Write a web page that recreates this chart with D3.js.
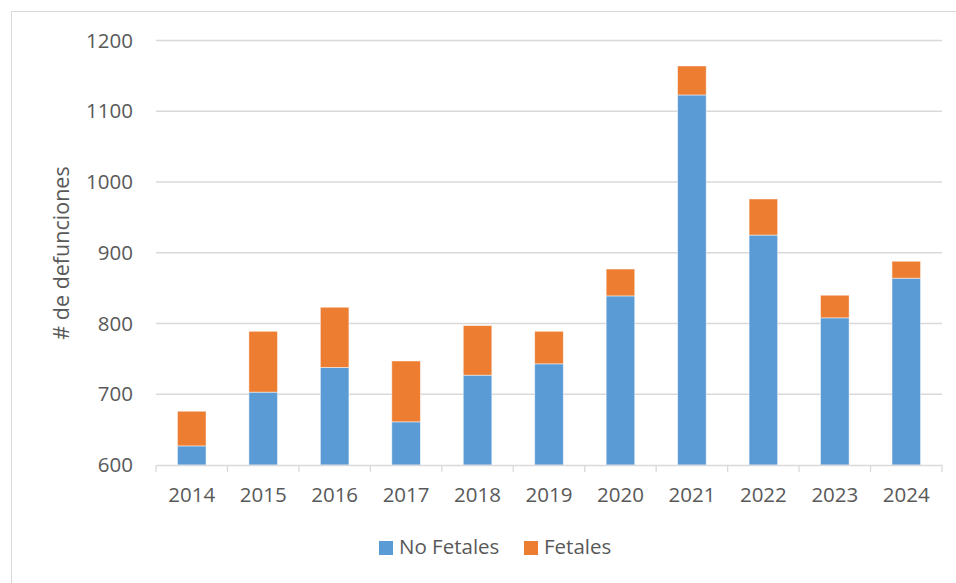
<!DOCTYPE html>
<html><head><meta charset="utf-8">
<script src="https://cdn.jsdelivr.net/npm/d3@7"></script>
<style>body{margin:0;background:#fff}svg{display:block}</style>
</head><body>
<svg id="c" width="956" height="583"></svg>
<script>
const years = ["2014","2015","2016","2017","2018","2019","2020","2021","2022","2023","2024"];
const noFetales = [627,703,738,661,727,743,839,1123,925,808,864];
const totals = [676,789,823,747,797,789,877,1164,976,840,888];
const fetales = totals.map((t,i)=>t-noFetales[i]);
const yTicks = [600,700,800,900,1000,1100,1200];
const seriesNames = ["No Fetales","Fetales"];
const colors = ["#5B9BD5","#ED7D31"];

const svg = d3.select("#c");
const font = "'Open Sans', sans-serif";
const fs = 20.5;
const textCol = "#595959";
const grid = "#d9d9d9";

// outer border
svg.append("rect").attr("x",11.5).attr("y",11.5).attr("width",1000).attr("height",1000)
  .attr("fill","none").attr("stroke","#d9d9d9").attr("stroke-width",1);

const pLeft=156, pRight=942, pTop=40.5, pBottom=465;
const x = d3.scaleBand().domain(years).range([pLeft,pRight]).paddingInner(0.6).paddingOuter(0.3);
const xb = d3.scaleBand().domain(years).range([pLeft,pRight]);
const y = d3.scaleLinear().domain([600,1200]).range([pBottom,pTop]);

// gridlines
svg.append("g").selectAll("line").data(yTicks.slice(1)).join("line")
  .attr("x1",pLeft).attr("x2",pRight).attr("y1",d=>y(d)).attr("y2",d=>y(d))
  .attr("stroke",grid).attr("stroke-width",1.3);

// y axis labels
const ya = svg.append("g").attr("transform",`translate(${pLeft},0)`)
  .call(d3.axisLeft(y).tickValues(yTicks).tickFormat(d3.format("d")).tickSize(0).tickPadding(23));
ya.select(".domain").remove();
ya.selectAll("text").attr("font-family",font).attr("font-size",fs).attr("fill",textCol);

// bars
const g = svg.append("g");
years.forEach((yr,i)=>{
  const parts = [[600,noFetales[i]],[noFetales[i],noFetales[i]+fetales[i]]];
  parts.forEach((p,k)=>{
    g.append("rect").attr("x",x(yr)).attr("width",x.bandwidth())
      .attr("y",y(p[1])).attr("height",y(p[0])-y(p[1]))
      .attr("fill",colors[k]).attr("stroke","#fff").attr("stroke-opacity",0.6).attr("stroke-width",0.8);
  });
});

// x axis
const xa = svg.append("g").attr("transform",`translate(0,${pBottom})`)
  .call(d3.axisBottom(xb).tickSize(0).tickPadding(22));
xa.select(".domain").attr("stroke",grid).attr("stroke-width",1.3);
xa.selectAll("text").attr("font-family",font).attr("font-size",fs).attr("fill",textCol);
// category boundary ticks
const bounds = years.map(d=>xb(d)).concat([pRight]);
svg.append("g").selectAll("line").data(bounds).join("line")
  .attr("x1",d=>d).attr("x2",d=>d).attr("y1",pBottom).attr("y2",pBottom+7)
  .attr("stroke",grid).attr("stroke-width",1.3);

// y title
svg.append("text").attr("transform","translate(63,253) rotate(-90)")
  .attr("text-anchor","middle").attr("dominant-baseline","middle")
  .attr("font-family",font).attr("font-size",21.5).attr("fill",textCol).text("# de defunciones");

// legend
const leg = svg.append("g");
const legX = [379,524];
seriesNames.forEach((n,i)=>{
  leg.append("rect").attr("x",legX[i]).attr("y",541).attr("width",14).attr("height",14).attr("fill",colors[i]);
  leg.append("text").attr("x",legX[i]+20).attr("y",549).attr("dominant-baseline","middle")
    .attr("font-family",font).attr("font-size",fs).attr("fill",textCol).text(n);
});
</script>
</body></html>
